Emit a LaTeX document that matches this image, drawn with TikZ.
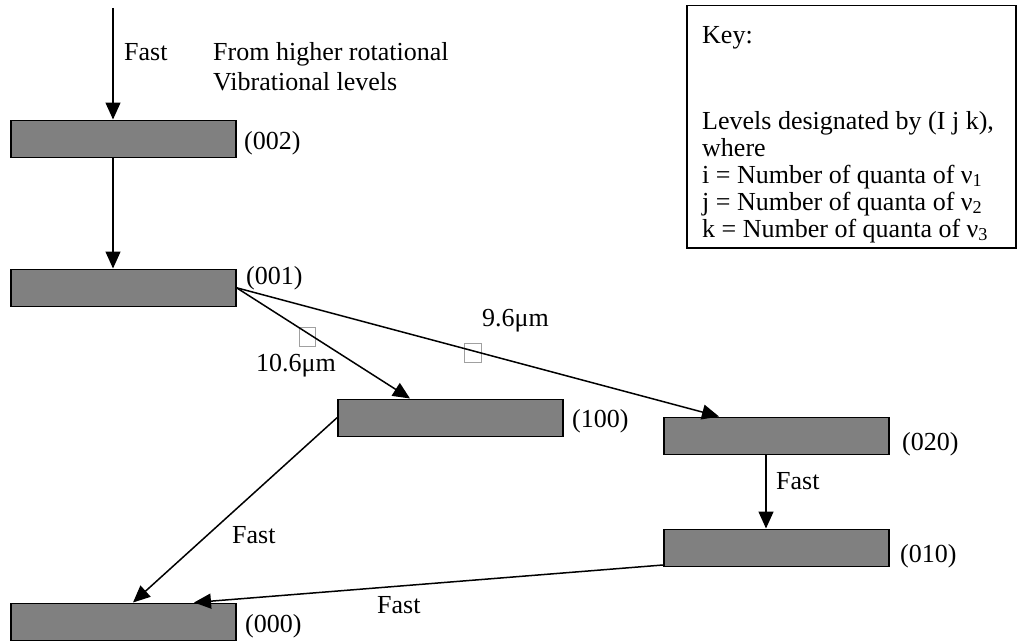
\documentclass[tikz,border=0pt]{standalone}
\usepackage{fontspec}
\setmainfont{Liberation Serif}
\usetikzlibrary{arrows.meta}
\definecolor{levelgray}{RGB}{128,128,128}
\definecolor{boxgray}{RGB}{160,160,160}
\tikzset{
  level/.style={draw=black, line width=1.5pt, fill=levelgray, minimum width=225pt, minimum height=37pt, inner sep=0pt, anchor=north west},
  lbl/.style={font=\fontsize{26}{30}\selectfont, anchor=base west, inner sep=0pt},
  keytxt/.style={font=\fontsize{26}{27}\selectfont, anchor=base west, inner sep=0pt},
  conn/.style={line width=1.5pt, -{Triangle[length=17pt,width=15pt]}},
  glyphbox/.style={draw=boxgray, line width=0.8pt},
}
\begin{document}
\begin{tikzpicture}[x=1pt,y=-1pt]
\useasboundingbox (0,0) rectangle (1023,642);
% levels
\node[level] (b002) at (10,119.5) {};
\node[level] (b001) at (10,268.5) {};
\node[level] (b100) at (337,398.5) {};
\node[level] (b020) at (663,416.5) {};
\node[level] (b010) at (663,528.5) {};
\node[level] (b000) at (10,602.5) {};
% labels
\node[lbl] (fast1) at (124,61) {Fast};
\node[lbl] (from1) at (213,61) {From higher rotational};
\node[lbl] (from2) at (213,90) {Vibrational levels};
\node[lbl] (l002) at (244,149) {(002)};
\node[lbl] (l001) at (246,284) {(001)};
\node[lbl] (l106) at (256,371) {10.6μm};
\node[lbl] (l96) at (482,326) {9.6μm};
\node[lbl] (l100) at (572,427) {(100)};
\node[lbl] (l020) at (902,450) {(020)};
\node[lbl] (fast2) at (776,489) {Fast};
\node[lbl] (l010) at (900,562) {(010)};
\node[lbl] (fast3) at (232,543) {Fast};
\node[lbl] (fast4) at (377,613) {Fast};
\node[lbl] (l000) at (245,632) {(000)};
% empty glyph boxes
\draw[glyphbox] (299,327) rectangle (315,346);
\draw[glyphbox] (464,343) rectangle (481,362);
% connectors
\coordinate (start) at (113,8);
\draw[conn] (start) -- (b002.north west -| start);
\draw[conn] (b002.south west -| start) -- (b001.north west -| start);
\draw[conn] (b001.east) -- ([xshift=73pt]b100.north west);
\draw[conn] (b001.east) -- ([xshift=56pt]b020.north west);
\draw[conn] ([xshift=103pt]b020.south west) -- ([xshift=103pt]b010.north west);
\draw[conn] (b100.west) -- ([xshift=123pt]b000.north west);
\draw[conn] ([yshift=2pt]b010.south west) -- ([xshift=184pt]b000.north west);
% key
\node[draw=black, line width=1.5pt, minimum width=329pt, minimum height=242pt, inner sep=0pt, anchor=north west] (key) at (686,5) {};
\begin{scope}
\clip (686,5) rectangle (1015,242.5);
\node[keytxt] (k1) at (702,44) {Key:};
\node[keytxt] (k2) at (702,129) {Levels designated by (I j k),};
\node[keytxt] (k3) at (702,156) {where};
\node[keytxt] (k4) at (702,183) {i = Number of quanta of ν\textsubscript{1}};
\node[keytxt] (k5) at (702,210) {j = Number of quanta of ν\textsubscript{2}};
\node[keytxt] (k6) at (702,237) {k = Number of quanta of ν\textsubscript{3}};
\end{scope}
\end{tikzpicture}
\end{document}
